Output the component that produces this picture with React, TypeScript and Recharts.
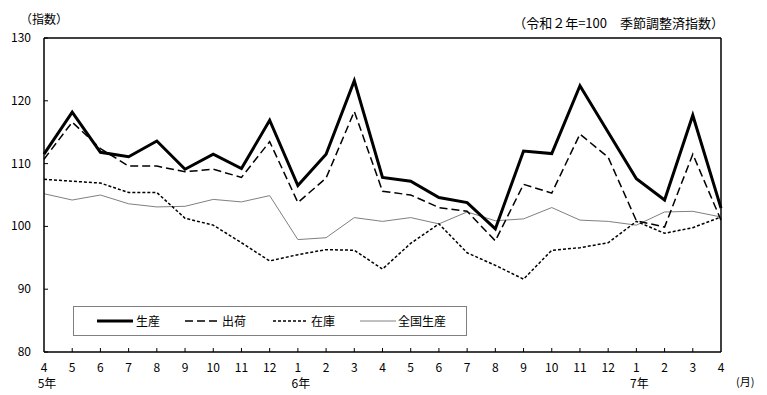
import React from "react";
import { LineChart, Line, XAxis, YAxis, ReferenceLine } from "recharts";

const months = ["4","5","6","7","8","9","10","11","12","1","2","3","4","5","6","7","8","9","10","11","12","1","2","3","4"];
const yearLabels: Record<number, string> = { 0: "5年", 9: "6年", 21: "7年" };
const production = [111.5,118.2,111.8,111.1,113.6,109.1,111.5,109.2,116.9,106.5,111.5,123.2,107.8,107.2,104.6,103.8,99.6,112.0,111.6,122.4,115.0,107.6,104.2,117.7,102.9];
const shipments = [110.7,116.6,112.4,109.6,109.6,108.7,109.1,107.8,113.5,103.8,107.7,118.3,105.6,105.0,103.0,102.4,97.7,106.7,105.3,114.7,111.0,100.9,99.9,111.5,101.0];
const inventory = [107.5,107.2,106.9,105.4,105.4,101.3,100.2,97.4,94.5,95.5,96.3,96.2,93.2,97.3,100.4,95.8,93.8,91.6,96.2,96.6,97.4,100.8,98.9,99.8,101.5];
const national = [105.2,104.2,105.0,103.6,103.1,103.2,104.3,103.9,104.9,97.9,98.2,101.4,100.8,101.4,100.4,102.3,100.9,101.2,103.0,101.0,100.8,100.2,102.3,102.4,101.5];
const yTicks = [80, 90, 100, 110, 120, 130];

const data = months.map((m, i) => ({
  i,
  month: m,
  production: production[i],
  shipments: shipments[i],
  inventory: inventory[i],
  national: national[i],
}));

const FONT = "'Noto Sans CJK JP', 'Noto Sans', sans-serif";

const YTick = (props: any) => {
  const { x, y, payload } = props;
  return (
    <g>
      <line x1={x} x2={x + 4} y1={y} y2={y} stroke="#000" strokeWidth={1} />
      <text x={x - 13} y={y} dy={4} textAnchor="end" fontSize={12} fontFamily={FONT} fill="#000">
        {payload.value}
      </text>
    </g>
  );
};

const XTick = (props: any) => {
  const { x, y, payload } = props;
  const idx = payload.value as number;
  const yl = yearLabels[idx];
  return (
    <g>
      {idx > 0 && idx < 24 && <line x1={x} x2={x} y1={y} y2={y - 4} stroke="#000" strokeWidth={1} />}
      <text x={x} y={y + 20} textAnchor="middle" fontSize={12} fontFamily={FONT} fill="#000">
        {months[idx]}
      </text>
      {yl && (
        <text x={x + 3} y={y + 36} textAnchor="middle" fontSize={12} fontFamily={FONT} fill="#000">
          {yl}
        </text>
      )}
    </g>
  );
};

const LegendBox = () => (
  <svg width={395} height={31} style={{ display: "block" }}>
    <rect x={0.5} y={0.5} width={393} height={29} fill="#fff" stroke="#808080" strokeWidth={1} />
    <line x1={24} x2={60} y1={15} y2={15} stroke="#000" strokeWidth={3} />
    <text x={63} y={19.5} fontSize={12} fontFamily={FONT} fill="#000">生産</text>
    <line x1={112} x2={147} y1={15} y2={15} stroke="#000" strokeWidth={1.5} strokeDasharray="8 4" />
    <text x={149} y={19.5} fontSize={12} fontFamily={FONT} fill="#000">出荷</text>
    <line x1={200} x2={235} y1={15} y2={15} stroke="#000" strokeWidth={1.5} strokeDasharray="3 2" />
    <text x={238} y={19.5} fontSize={12} fontFamily={FONT} fill="#000">在庫</text>
    <line x1={287} x2={323} y1={15} y2={15} stroke="#808080" strokeWidth={1} />
    <text x={325} y={19.5} fontSize={12} fontFamily={FONT} fill="#000">全国生産</text>
  </svg>
);

export default function App() {
  return (
    <div style={{ position: "absolute", left: 0, top: 0, width: 767, height: 395, background: "#fff" }}>
      <LineChart
        width={767}
        height={395}
        data={data}
        margin={{ top: 38, right: 46, bottom: 3, left: 0 }}
      >
        <XAxis
          dataKey="i"
          type="number"
          domain={[0, 24]}
          ticks={data.map((d) => d.i)}
          interval={0}
          tickSize={0}
          tickMargin={0}
          tickLine={false}
          tick={<XTick />}
          axisLine={{ stroke: "#000", strokeWidth: 1.5 }}
          height={40}
        />
        <YAxis
          type="number"
          domain={[80, 130]}
          ticks={yTicks}
          interval={0}
          tickSize={0}
          tickMargin={0}
          tickLine={false}
          tick={<YTick />}
          axisLine={{ stroke: "#000", strokeWidth: 1.5 }}
          width={44}
        />
        <ReferenceLine y={130} stroke="#000" strokeWidth={1.5} />
        <ReferenceLine x={24} stroke="#000" strokeWidth={1.5} />
        <Line dataKey="national" stroke="#808080" strokeWidth={1} dot={false} isAnimationActive={false} />
        <Line dataKey="inventory" stroke="#000" strokeWidth={1.5} strokeDasharray="3 2" dot={false} isAnimationActive={false} />
        <Line dataKey="shipments" stroke="#000" strokeWidth={1.5} strokeDasharray="8 4" dot={false} isAnimationActive={false} />
        <Line dataKey="production" stroke="#000" strokeWidth={3} dot={false} isAnimationActive={false} />
      </LineChart>
      <div style={{ position: "absolute", left: 73, top: 306 }}>
        <LegendBox />
      </div>
      <div style={{ position: "absolute", left: 20, top: 10, fontSize: 12, fontFamily: FONT, color: "#000" }}>（指数）</div>
      <div style={{ position: "absolute", right: 43, top: 13, fontSize: 13, fontFamily: FONT, color: "#000", whiteSpace: "pre" }}>
        （令和２年=100　季節調整済指数）
      </div>
      <div style={{ position: "absolute", left: 736, top: 373, fontSize: 11, fontFamily: FONT, color: "#000" }}>(月)</div>
    </div>
  );
}
